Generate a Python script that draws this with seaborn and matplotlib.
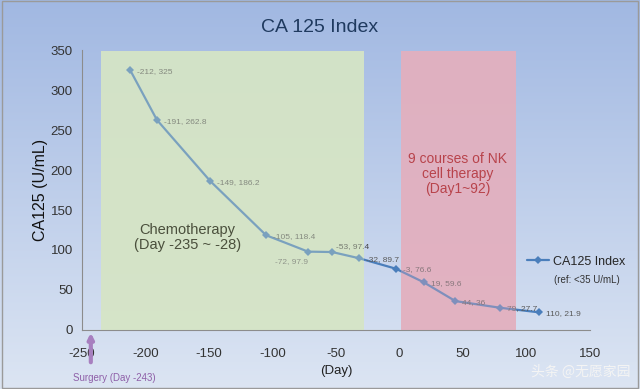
import numpy as np
import pandas as pd
import matplotlib
matplotlib.use("Agg")
import matplotlib.pyplot as plt
import seaborn as sns

days = [-212, -191, -149, -105, -72, -53, -32, -3, 19, 44, 79, 110]
ca125 = [325, 262.8, 186.2, 118.4, 97.9, 97.4, 89.7, 76.6, 59.6, 36, 27.7, 21.9]
chemo_span = (-235, -28)
nk_span = (1, 92)
surgery_day = -243
x_ticks = [-250, -200, -150, -100, -50, 0, 50, 100, 150]
y_ticks = [0, 50, 100, 150, 200, 250, 300, 350]

df = pd.DataFrame({"day": days, "ca125": ca125})

sns.set_theme(style="white")
plt.rcParams["font.family"] = ["Liberation Sans", "DejaVu Sans", "Noto Sans CJK SC"]
plt.rcParams["axes.unicode_minus"] = False

fig = plt.figure(figsize=(6.4, 3.89), dpi=100)
# blue gradient background
bg = fig.add_axes([0, 0, 1, 1], zorder=-10)
grad = np.linspace(0, 1, 256).reshape(-1, 1)
bg.imshow(grad, aspect="auto", cmap=matplotlib.colors.LinearSegmentedColormap.from_list(
    "bgc", ["#a1b8e2", "#dce5f3"]), extent=[0, 1, 0, 1], origin="upper")
bg.axis("off")
bg.add_patch(plt.Rectangle((0.003, 0.003), 0.994, 0.994, fill=False, ec="#9a9a9a", lw=1,
                           transform=bg.transAxes))

ax = fig.add_axes([0.128, 0.152, 0.794, 0.719])
ax.patch.set_alpha(0)

# shaded periods: opaque base below the line, thin veil above it
for span, col in [(chemo_span, "#d6e5c6"), (nk_span, "#e3b0bf")]:
    ax.axvspan(*span, ymax=349 / 350, color=col, alpha=0.9, lw=0, zorder=0)
    ax.axvspan(*span, ymax=349 / 350, color=col, alpha=0.35, lw=0, zorder=5)

sns.lineplot(data=df, x="day", y="ca125", ax=ax, color="#4a7ebb", lw=1.6,
             marker="D", markersize=4, markeredgewidth=0, label="CA125 Index", zorder=3)

for d, v in zip(days, ca125):
    lbl = f"{d}, {v:g}"
    if d == -72:
        ax.annotate(lbl, (d, v), xytext=(-24, -8), textcoords="offset points",
                    fontsize=6, color="#6b6b6b", zorder=4)
    elif d == -53:
        ax.annotate(lbl, (d, v), xytext=(3, 3), textcoords="offset points",
                    fontsize=6, color="#444444", zorder=4)
    else:
        ax.annotate(lbl, (d, v), xytext=(5, -2), textcoords="offset points",
                    fontsize=6, color="#595959", zorder=4)

ax.text(-167, 116, "Chemotherapy\n(Day -235 ~ -28)", ha="center", va="center",
        fontsize=10.5, color="#4a4f3c", linespacing=1.1, zorder=6)
ax.text(46, 222, "9 courses of NK\ncell therapy\n(Day1~92)", ha="center", va="top",
        fontsize=10, color="#b8434b", linespacing=1.05, zorder=6)

ax.annotate("", xy=(surgery_day, 0), xytext=(surgery_day, -44),
            arrowprops=dict(arrowstyle="-|>", color="#a77fbf", lw=3, mutation_scale=8),
            annotation_clip=False)
ax.text(surgery_day - 14, -60, "Surgery (Day -243)", ha="left", va="center", fontsize=7,
        color="#8e5fa8")

ax.set_xlim(-250, 150)
ax.set_ylim(0, 350)
ax.set_xticks(x_ticks)
ax.set_yticks(y_ticks)
ax.tick_params(axis="both", labelsize=9.5, colors="#333333", length=3, direction="out")
ax.tick_params(axis="x", pad=10)
for s in ["top", "right"]:
    ax.spines[s].set_visible(False)
for s in ["left", "bottom"]:
    ax.spines[s].set_color("#8c8c8c")
    ax.spines[s].set_linewidth(0.8)
ax.set_xlabel("(Day)", fontsize=9.5, color="#222222", labelpad=4)
ax.set_ylabel("CA125 (U/mL)", fontsize=11.5, color="#111111", labelpad=2)

leg = ax.legend(loc="center left", bbox_to_anchor=(0.815, 0.327),
                bbox_transform=fig.transFigure, frameon=False,
                fontsize=9, handlelength=1.8, handletextpad=0.3, borderaxespad=0)
fig.text(0.968, 0.28, "(ref: <35 U/mL)", ha="right", va="center", fontsize=7,
         color="#333333")

fig.text(0.5, 0.918, "CA 125 Index", ha="center", fontsize=14, color="#1f3a5f")
fig.text(0.985, 0.035, "头条 @无愿家园", ha="right", fontsize=10, color="#f4f4f4",
         family=["Noto Sans CJK SC", "DejaVu Sans"])

fig.savefig("out.png", dpi=100)
